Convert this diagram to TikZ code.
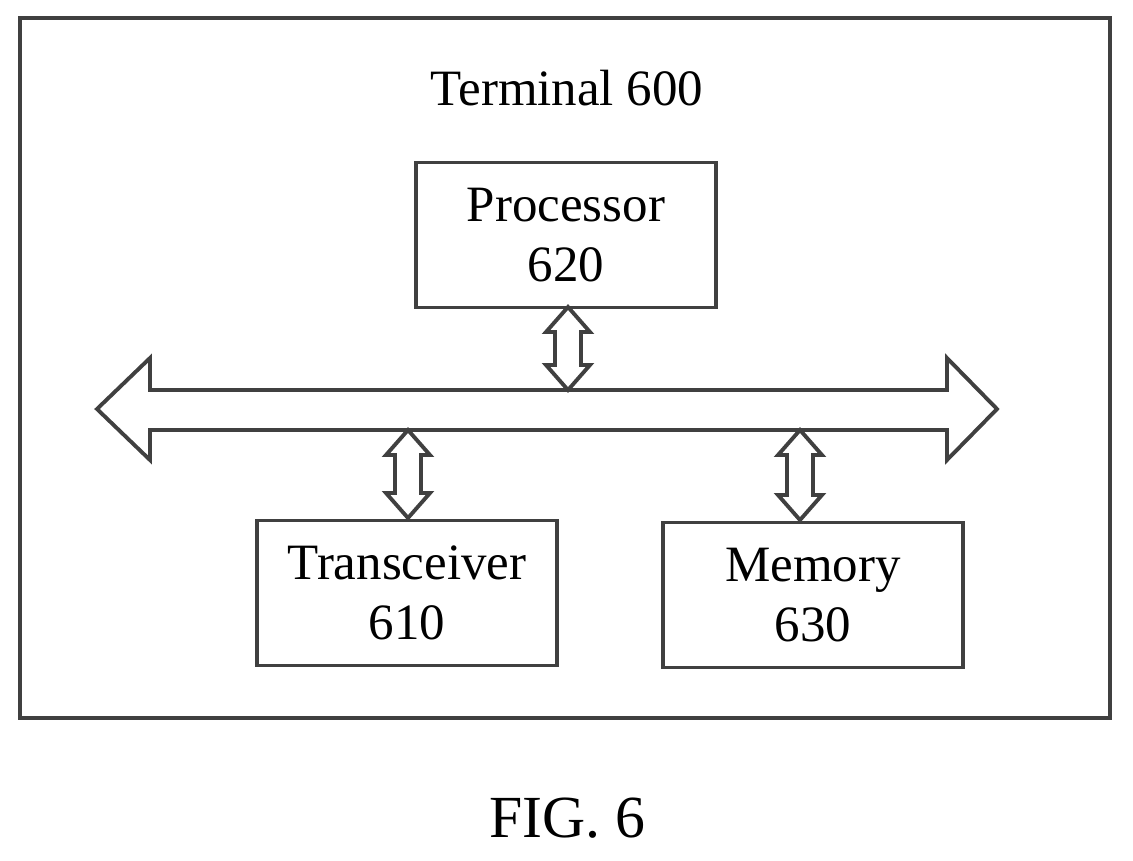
\documentclass[tikz,border=0pt]{standalone}
\usepackage{fontspec}
\setmainfont{Liberation Serif}
\usetikzlibrary{positioning}
\tikzstyle{block} = [rectangle, draw=black!75, line width=2.2pt, minimum width=6cm, minimum height=2.9cm, align=center, font=\fontsize{29}{34}\selectfont]
\tikzstyle{hollow} = [draw=black!75, line width=2.2pt, fill=white]
% vertical double arrow: x centre, top y, bottom y
\newcommand{\vlink}[3]{\draw[hollow] (#1,#2) -- (#1+22,#2+25) -- (#1+13,#2+25) -- (#1+13,#3-25) -- (#1+22,#3-25) -- (#1,#3) -- (#1-22,#3-25) -- (#1-13,#3-25) -- (#1-13,#2+25) -- (#1-22,#2+25) -- cycle;}

\begin{document}
\begin{tikzpicture}[x=0.02cm, y=-0.02cm]
    \useasboundingbox (0,0) rectangle (1133,860);
    \draw[draw=black!75, line width=2.2pt] (20,18) rectangle (1110,718);
    \node (term) at (567,88) [font=\fontsize{29}{34}\selectfont] {Terminal 600};
    \node (proc) at (566,235) [block] {Processor\\620};
    \node (trans) at (407,593) [block] {Transceiver\\610};
    \node (mem) at (813,595) [block] {Memory\\630};
    \node (fig) at (567,818) [font=\fontsize{34}{40}\selectfont] {FIG. 6};
    % bus
    \draw[hollow] (97,409) -- (150,358) -- (150,390) -- (947,390) -- (947,358) -- (997,409)
        -- (947,460) -- (947,430) -- (150,430) -- (150,460) -- cycle;
    \vlink{568}{307}{390}
    \vlink{408}{430}{518}
    \vlink{800}{430}{520}
\end{tikzpicture}
\end{document}
